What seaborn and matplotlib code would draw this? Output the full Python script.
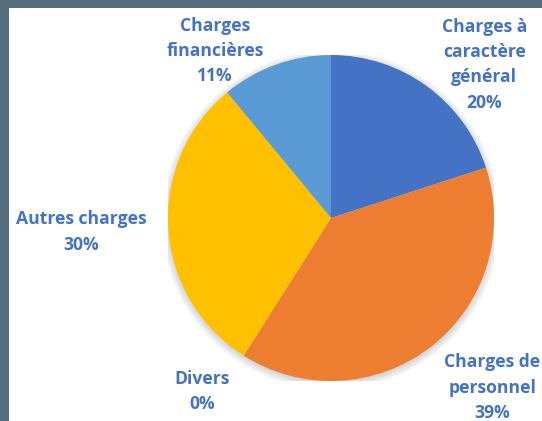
import matplotlib
matplotlib.use("Agg")
import matplotlib.pyplot as plt
import seaborn as sns
from matplotlib.patches import Rectangle, Circle

# data
categories = ["Charges à\ncaractère\ngénéral", "Charges de\npersonnel", "Divers",
              "Autres charges", "Charges\nfinancières"]
values = [20, 39, 0, 30, 11]
colors_ = ["#4472C4", "#ED7D31", "#A5A5A5", "#FFC000", "#5B9BD5"]

# label anchors (axes data coords, pie radius = 1)
label_pos = [(0.94, 0.94), (0.99, -1.04), (-0.79, -1.065), (-1.53, -0.086), (-0.71, 1.025)]

sns.set_theme(style="white")
plt.rcParams["font.family"] = ["Open Sans", "DejaVu Sans"]

W, H = 542, 421
fig = plt.figure(figsize=(W / 100, H / 100), dpi=100)
fig.patch.set_facecolor("#546E7E")
fig.patches.append(Rectangle((9 / W, 0), 1 - 9 / W, (H - 8) / H, transform=fig.transFigure,
                             facecolor="white", edgecolor="none", zorder=-10))

cx, cy, r = 331, 218, 163
ax = fig.add_axes([(cx - r) / W, (H - cy - r) / H, 2 * r / W, 2 * r / H])
ax.set_zorder(5)

# soft shadow
for k in range(8):
    ax.add_patch(Circle((0, -0.012), 1.0 + 0.006 * k, facecolor="black", alpha=0.018,
                        edgecolor="none", zorder=0))

ax.pie(values, colors=colors_, startangle=90, counterclock=False, radius=1,
       wedgeprops={"linewidth": 0, "edgecolor": "none"}, frame=True)
ax.set_xlim(-1, 1)
ax.set_ylim(-1, 1)
ax.axis("off")

total = sum(values)
for name, v, (x, y) in zip(categories, values, label_pos):
    pct = round(100 * v / total)
    ax.text(x, y, f"{name}\n{pct}%", ha="center", va="center", color="#4472C4",
            fontsize=12.6, fontweight="bold", linespacing=1.52, clip_on=False)

fig.savefig("out.png", dpi=100)
